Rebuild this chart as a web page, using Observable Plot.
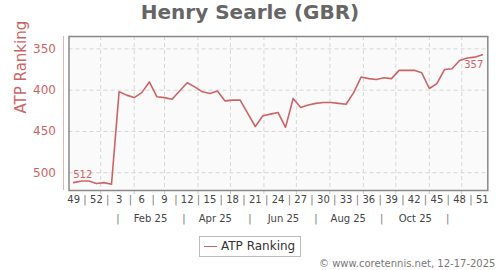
<!DOCTYPE html>
<html>
<head>
<meta charset="utf-8">
<script src="https://cdn.jsdelivr.net/npm/d3@7"></script>
<script src="https://cdn.jsdelivr.net/npm/@observablehq/plot@0.6"></script>
<style>
  body { margin: 0; background: #fff; font-family: "DejaVu Sans", sans-serif; }
  #wrap { position: relative; width: 500px; height: 270px; overflow: hidden; background: #fff; }
  #chart { position: absolute; left: 0; top: 0; }
  #title { position: absolute; left: 0; top: 1.6px; width: 500px; text-align: center; font-weight: bold;
           font-size: 20px; line-height: 20px; color: #666; }
  #legend { position: absolute; left: 199px; top: 236px; width: 100px; height: 19px; border: 1px solid #bbb;
            background: #fff; }
  #legend .swatch { position: absolute; left: 4px; top: 9px; width: 13px; height: 0; border-top: 1.6px solid #cd6464; }
  #legend .lab { position: absolute; left: 21px; top: 2px; font-size: 12px; line-height: 15px; color: #333; white-space: nowrap; }
  #caption { position: absolute; left: 319px; top: 258px; font-size: 10px; line-height: 12px; color: #777; white-space: nowrap; }
</style>
</head>
<body>
<div id="wrap">
  <div id="chart"></div>
  <div id="title"></div>
  <div id="legend"><div class="swatch"></div><div class="lab"></div></div>
  <div id="caption"></div>
</div>
<script>
// ---- data ----
const titleText = "Henry Searle (GBR)";
const seriesName = "ATP Ranking";
const captionText = "© www.coretennis.net, 12-17-2025";
const firstWeekDate = "2024-12-07";
const weekLabels = [49, 50, 51, 52, 1, 2, 3, 4, 5, 6, 7, 8, 9, 10, 11, 12, 13, 14, 15, 16, 17, 18, 19, 20,
  21, 22, 23, 24, 25, 26, 27, 28, 29, 30, 31, 32, 33, 34, 35, 36, 37, 38, 39, 40, 41, 42, 43, 44, 45,
  46, 47, 48, 49, 50, 51];
const ranks = [512, 510, 510, 513, 512, 514, 402, 406, 409, 403, 390, 408, 409, 411, 401, 391, 396, 402,
  404, 401, 413, 412, 412, 428, 444, 431, 429, 427, 445, 410, 421, 418, 416, 415, 415, 416, 417, 403,
  384, 386, 387, 385, 386, 376, 376, 376, 379, 398, 392, 375, 374, 364, 361, 360, 357];
const yTicks = [350, 400, 450, 500];
const monthLabels = ["Feb 25", "Apr 25", "Jun 25", "Aug 25", "Oct 25"];
const monthLabelDates = ["2025-02-16", "2025-04-17", "2025-06-19", "2025-08-18", "2025-10-19"];
const monthSepDates = ["2025-01-17", "2025-03-19", "2025-05-19", "2025-07-19", "2025-09-18", "2025-11-18"];
const xDomain = ["2024-12-02T16:00Z", "2025-12-25T02:00Z"];
const yDomain = [335, 521.5];

// ---- derived ----
const start = new Date(firstWeekDate + "T00:00Z");
const WEEK = 7 * 864e5;
const data = ranks.map((r, i) => ({date: new Date(+start + i * WEEK), rank: r, week: weekLabels[i]}));
const ticks = data.filter((d, i) => i % 3 === 0);
const seps = ticks.slice(0, -1).map(d => new Date(+d.date + 1.5 * WEEK));
const monthStarts = d3.utcMonths(new Date("2025-01-01T00:00Z"), new Date("2025-12-02T00:00Z"));
const lbl = monthLabels.map((t, i) => ({t, date: new Date(monthLabelDates[i] + "T00:00Z")}));
const msep = monthSepDates.map(s => new Date(s + "T00:00Z"));
const red = "#cd6464";

const chart = Plot.plot({
  width: 500,
  height: 270,
  marginTop: 36,
  marginBottom: 80,
  marginLeft: 68.5,
  marginRight: 12.7,
  style: {fontFamily: "DejaVu Sans, sans-serif", background: "transparent", overflow: "visible"},
  x: {type: "utc", domain: xDomain.map(s => new Date(s)), axis: null},
  y: {domain: yDomain, reverse: true, axis: null},
  marks: [
    Plot.frame({fill: "#fafafa", stroke: "none"}),
    Plot.gridY(yTicks, {stroke: "#d6d6d6", strokeOpacity: 1, strokeDasharray: "4,3"}),
    Plot.gridX(monthStarts, {stroke: "#d6d6d6", strokeOpacity: 1, strokeDasharray: "4,3"}),
    Plot.ruleX(monthStarts, {y1: yDomain[1], y2: yDomain[1], insetBottom: -4, stroke: "#c8c8c8"}),
    Plot.frame({stroke: "#888", strokeWidth: 1.5}),
    Plot.ruleX([new Date(xDomain[0])], {dx: -5.5, stroke: "#e2b4b4"}),
    Plot.line(data, {x: "date", y: "rank", stroke: red, strokeWidth: 1.6}),
    Plot.text([data[0]], {x: "date", y: "rank", text: d => String(d.rank), textAnchor: "start",
      dx: -0.5, dy: -7.5, fontSize: 10, fill: red}),
    Plot.text([data[data.length - 1]], {x: "date", y: "rank", text: d => String(d.rank), textAnchor: "end",
      dx: 1, dy: 10, fontSize: 10, fill: red}),
    Plot.axisY({ticks: yTicks, tickSize: 0, tickPadding: 13, fontSize: 12, color: red, label: null}),
    Plot.text([seriesName], {frameAnchor: "left", rotate: -90, dx: -47.5, fontSize: 15, fill: red}),
    Plot.text(ticks, {x: "date", text: d => String(d.week), frameAnchor: "bottom", dy: 12.5, fontSize: 10, fill: "#444"}),
    Plot.text(seps, {x: d => d, text: () => "|", frameAnchor: "bottom", dy: 12.5, fontSize: 10, fill: "#777"}),
    Plot.text(lbl, {x: "date", text: "t", frameAnchor: "bottom", dy: 31, fontSize: 10, fill: "#444"}),
    Plot.text(msep, {x: d => d, text: () => "|", frameAnchor: "bottom", dy: 31, fontSize: 10, fill: "#777"})
  ]
});
document.getElementById("chart").appendChild(chart);
document.getElementById("title").textContent = titleText;
document.querySelector("#legend .lab").textContent = seriesName;
document.getElementById("caption").textContent = captionText;
</script>
</body>
</html>
